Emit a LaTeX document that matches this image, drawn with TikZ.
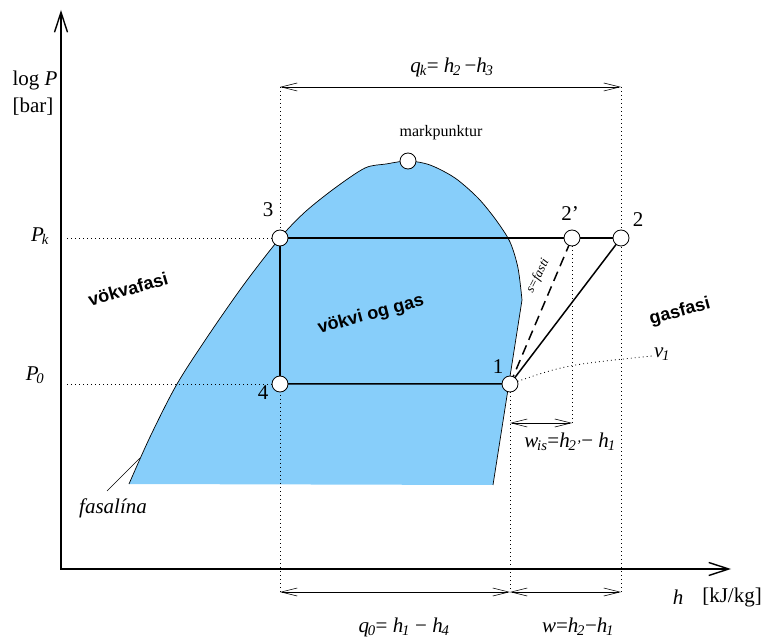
\documentclass[tikz,border=0pt]{standalone}
\usepackage{fontspec}
\setmainfont{Liberation Serif}
\setsansfont{Liberation Sans}
\usetikzlibrary{arrows.meta}
\newcommand\lsub[1]{\kern-1.2pt\textsubscript{\itshape #1}}
\definecolor{skyb}{RGB}{135,206,250}
\begin{document}
\begin{tikzpicture}[x=1pt,y=-1pt,
  lbl/.style={font=\fontsize{21}{24}\selectfont, inner sep=0pt},
  phase/.style={font=\sffamily\bfseries\fontsize{18}{20}\selectfont, inner sep=0pt},
  pt/.style={circle, draw, fill=white, minimum size=16pt, inner sep=0pt, line width=0.8pt},
  dots/.style={line width=0.8pt, dash pattern=on 0.9pt off 3.1pt},
  barb/.tip={Straight Barb[length=16pt,width=8pt,line width=0.6pt]},
  dim/.style={line width=0.6pt, barb-barb},
  cyc/.style={line width=1.5pt},
  axis/.style={line width=1.6pt, {Straight Barb[length=20pt,width=13pt,line width=1.4pt]}-{Straight Barb[length=20pt,width=13pt,line width=1.4pt]}}
]
\useasboundingbox (0,0) rectangle (764,639);

% saturation dome
\def\satcurve{plot[smooth,tension=0.5] coordinates {(129,484) (150,437) (177,384) (210,333) (245,283) (280,238) (305,212) (335,188) (365,168) (386,164) (408,161) (430,165) (455,178) (478,198) (496,220) (510,242) (518,268) (522,300)} -- (493,485)}
\fill[skyb] \satcurve -- cycle;
\draw[line width=0.7pt] \satcurve;

% axes
\coordinate (O) at (61,569);
\coordinate (ytip) at (61,10);
\coordinate (xtip) at (731,569);
\draw[axis] (ytip) -- (O) -- (xtip);

% state points (positions)
\coordinate (c3) at (280,238);
\coordinate (c2s) at (572,238);
\coordinate (c2) at (621,238);
\coordinate (c4) at (280,384);
\coordinate (c1) at (510,384);
\coordinate (cm) at (408,161);

% dimension coordinates
\coordinate (t3) at (280,87);
\coordinate (t2) at (621,87);
\coordinate (b4) at (280,592);
\coordinate (b1) at (510,592);
\coordinate (b2) at (621,592);
\coordinate (w1) at (510,423);
\coordinate (w2) at (572,423);
\coordinate (pk) at (67,238);
\coordinate (p0) at (67,384);
\coordinate (vend) at (652,356);
\coordinate (fasend) at (107,491);
\coordinate (fascurve) at (140,458);

% dotted guide lines
\draw[dots] (pk) -- (c3);
\draw[dots] (p0) -- (c4);
\draw[dots] (t3) -- (b4);
\draw[dots] (t2) -- (b2);
\draw[dots] (c1) -- (b1);
\draw[dots] (c2s) -- (w2);
\draw[dots] (c1) .. controls (565,365) .. (vend);

% cycle
\draw[cyc] (c4) -- (c3) -- (c2);
\draw[cyc] (c4) -- (c1) -- (c2);
\draw[cyc, dash pattern=on 10pt off 6pt] (c1) -- (c2s);

% dimension arrows
\draw[dim] (t3) -- (t2);
\draw[dim] (b4) -- (b1);
\draw[dim] (b1) -- (b2);
\draw[dim] (w1) -- (w2);

% fasalina pointer
\draw[line width=0.6pt] (fasend) -- (fascurve);

% point circles
\node[pt] (n3) at (c3) {};
\node[pt] (n2s) at (c2s) {};
\node[pt] (n2) at (c2) {};
\node[pt] (n4) at (c4) {};
\node[pt] (n1) at (c1) {};
\node[pt] (nm) at (cm) {};

% labels
\node[lbl] (lp) at (35,80) {log \textit{P}};
\node[lbl] (lbar) at (33,107) {[bar]};
\node[lbl] (lpk) at (40,236) {\textit{P}\kern-1pt\lsub{k}};
\node[lbl] (lp0) at (35,375) {\textit{P}\kern-1pt\lsub{0}};
\node[lbl] (l3) at (268,210) {3};
\node[lbl] (l4) at (263,393) {4};
\node[lbl] (l1) at (498,367) {1};
\node[lbl] (l2s) at (570,214) {2’};
\node[lbl] (l2) at (638,220) {2};
\node[font=\fontsize{16}{18}\selectfont, inner sep=0pt] (lm) at (441,133) {markpunktur};
\node[lbl] (lqk) at (452,67) {\textit{q}\lsub{k}= \textit{h}\lsub{2}\,−\textit{h}\lsub{3}};
\node[lbl] (lv) at (662,354) {\textit{v}\lsub{1}};
\node[lbl] (lwis) at (570,442) {\textit{w}\lsub{is}=\textit{h}\lsub{2’}− \textit{h}\lsub{1}};
\node[lbl] (lq0) at (404,627) {\textit{q}\lsub{0}= \textit{h}\lsub{1} − \textit{h}\lsub{4}};
\node[lbl] (lw) at (578,627) {\textit{w}=\textit{h}\lsub{2}−\textit{h}\lsub{1}};
\node[lbl] (lh) at (678,597) {\textit{h}};
\node[lbl] (lunit) at (732,597) {[kJ/kg]};
\node[lbl, font=\itshape\fontsize{21}{24}\selectfont] (lfas) at (113,508) {fasalína};
\node[font=\itshape\fontsize{13}{15}\selectfont, inner sep=0pt, rotate=63] (ls) at (538,276) {s=fasti};
\node[phase, rotate=16] (lliq) at (128,289) {vökvafasi};
\node[phase, rotate=15] (lmix) at (371,315) {vökvi og gas};
\node[phase, rotate=15] (lgas) at (680,312) {gasfasi};
\end{tikzpicture}
\end{document}
